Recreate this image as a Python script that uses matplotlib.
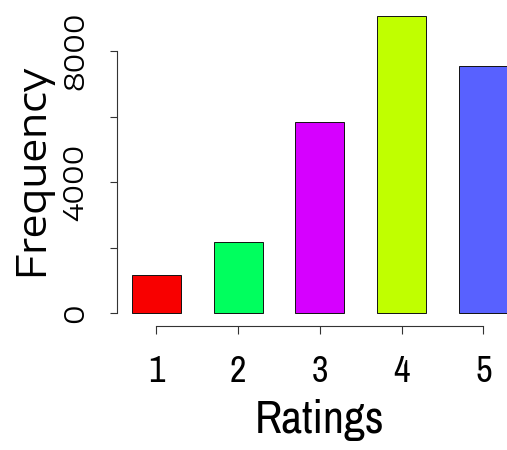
import matplotlib
matplotlib.use("Agg")
import matplotlib.pyplot as plt

# ---- data ----
ratings = ["1", "2", "3", "4", "5"]
frequency = [1160, 2180, 5840, 9070, 7545]
bar_colors = ["#F80000", "#00FF5E", "#D600FF", "#C0FF00", "#5861FF"]
y_ticks = [0, 4000, 8000]
y_tick_labels = ["0", "4000", "8000"]
y_minor = [2000, 6000]

W, H = 507, 450
fig = plt.figure(figsize=(W / 100, H / 100), dpi=100)

# axes placement in pixels (from top-left)
ax_left, ax_right = 116.7, 523.1
ax_top, ax_bottom = 3.9, 325.7
ax = fig.add_axes([ax_left / W, (H - ax_bottom) / H,
                   (ax_right - ax_left) / W, (ax_bottom - ax_top) / H])

xpos = list(range(1, len(ratings) + 1))
ax.bar(xpos, frequency, width=0.6, color=bar_colors,
       edgecolor="#111111", linewidth=0.7)

ax.set_xlim(0.513, 5.487)
ax.set_ylim(-378, 9436)

for s in ["top", "right"]:
    ax.spines[s].set_visible(False)
ax.spines["left"].set_bounds(0, 8000)
ax.spines["bottom"].set_bounds(1, 5)
for s in ["left", "bottom"]:
    ax.spines[s].set_linewidth(0.8)
    ax.spines[s].set_color("#333333")

all_y = sorted(y_ticks + y_minor)
ax.set_yticks(all_y)
ax.set_yticklabels([y_tick_labels[y_ticks.index(v)] if v in y_ticks else ""
                    for v in all_y])
ax.set_xticks(xpos)
ax.set_xticklabels(ratings)

ax.tick_params(axis="y", direction="out", length=5.0, width=0.8,
               color="#333333", pad=19.2)
ax.tick_params(axis="x", direction="out", length=6.1, width=0.8,
               color="#333333", pad=34.4)

vfam = ["Encode Sans Expanded", "DejaVu Sans"]
hfam = ["Archivo Narrow", "DejaVu Sans"]

for lbl in ax.get_yticklabels():
    lbl.set_rotation(90)
    lbl.set_rotation_mode("anchor")
    lbl.set_ha("center")
    lbl.set_va("baseline")
    lbl.set_family(vfam)
    lbl.set_fontsize(20)
for lbl in ax.get_xticklabels():
    lbl.set_va("baseline")
    lbl.set_family(hfam)
    lbl.set_fontsize(26)

fig.text(43 / W, 1 - 170 / H, "Frequency", rotation=90, rotation_mode="anchor",
         ha="center", va="baseline", family=vfam, fontsize=29)
fig.text(320 / W, 1 - 433.3 / H, "Ratings", ha="center", va="baseline",
         family=hfam, fontsize=33)

fig.savefig("out.png", dpi=100)
